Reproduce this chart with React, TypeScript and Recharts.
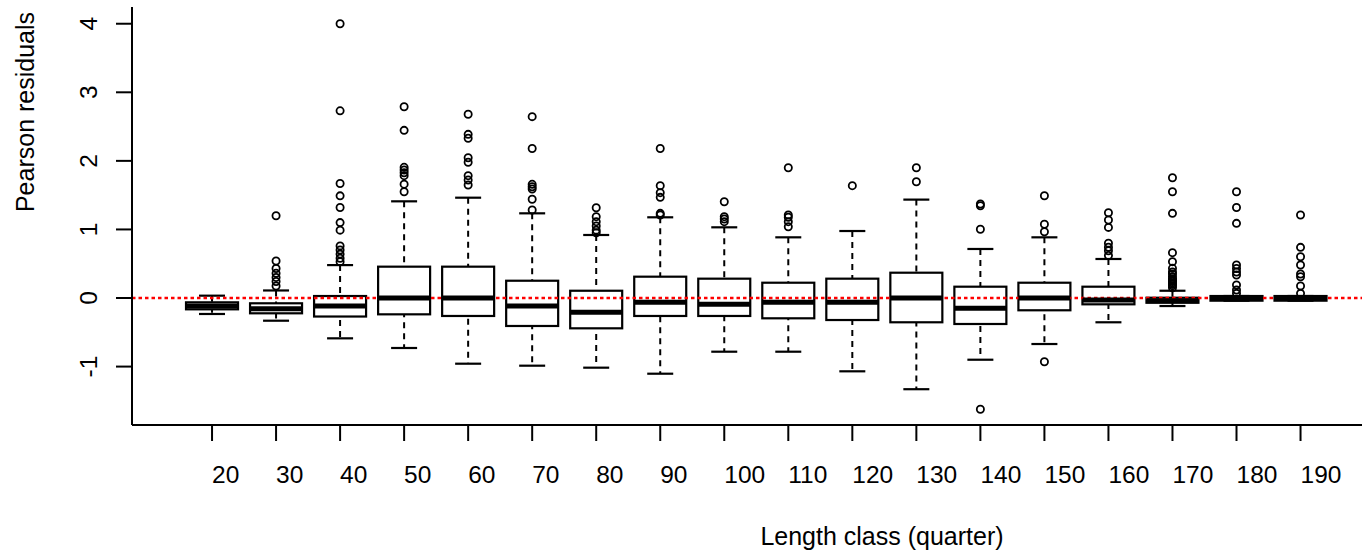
import React from "react";
import {
  ComposedChart,
  Bar,
  Scatter,
  XAxis,
  YAxis,
  ReferenceLine,
} from "recharts";

// length classes (x categories)
const categories = ["20", "30", "40", "50", "60", "70", "80", "90", "100", "110", "120", "130", "140", "150", "160", "170", "180", "190"];

// box statistics
const whiskerLow = [-0.233, -0.331, -0.588, -0.729, -0.958, -0.987, -1.016, -1.104, -0.783, -0.783, -1.069, -1.33, -0.9, -0.671, -0.354, -0.117, -0.039, -0.039];
const q1 = [-0.165, -0.223, -0.27, -0.238, -0.262, -0.408, -0.442, -0.262, -0.262, -0.296, -0.321, -0.354, -0.379, -0.179, -0.092, -0.069, -0.039, -0.039];
const median = [-0.117, -0.156, -0.117, 0.0, 0.0, -0.117, -0.209, -0.063, -0.092, -0.063, -0.063, 0.0, -0.15, 0.0, -0.03, -0.04, 0.0, 0.0];
const q3 = [-0.063, -0.077, 0.029, 0.457, 0.457, 0.252, 0.106, 0.311, 0.282, 0.223, 0.282, 0.369, 0.165, 0.223, 0.165, 0.004, 0.029, 0.029];
const whiskerHigh = [0.034, 0.11, 0.48, 1.41, 1.463, 1.235, 0.919, 1.177, 1.031, 0.885, 0.977, 1.435, 0.715, 0.885, 0.569, 0.106, 0.029, 0.029];

const outliers = [
  [],
  [1.2, 0.54, 0.43, 0.36, 0.3, 0.24, 0.175],
  [4.0, 2.73, 1.67, 1.49, 1.32, 1.1, 0.99, 0.76, 0.7, 0.64, 0.58, 0.53],
  [2.79, 2.445, 1.906, 1.867, 1.827, 1.784, 1.66, 1.55],
  [2.68, 2.387, 2.33, 2.046, 1.98, 1.784, 1.72, 1.648],
  [2.645, 2.18, 1.658, 1.623, 1.59, 1.44, 1.283],
  [1.317, 1.186, 1.113, 1.05, 0.99, 0.952],
  [2.18, 1.638, 1.536, 1.468, 1.235, 1.21],
  [1.404, 1.186, 1.152, 1.113],
  [1.9, 1.21, 1.177, 1.113, 1.04],
  [1.638],
  [1.9, 1.696],
  [1.371, 1.346, 1.002, -1.623],
  [1.492, 1.075, 0.967, -0.929],
  [1.244, 1.137, 1.03, 0.8, 0.74, 0.69, 0.62],
  [1.754, 1.55, 1.235, 0.661, 0.53, 0.433, 0.38, 0.35, 0.31, 0.28, 0.26, 0.24, 0.22, 0.2, 0.18, 0.15],
  [1.55, 1.32, 1.089, 0.481, 0.43, 0.38, 0.335, 0.19, 0.117, 0.068],
  [1.21, 0.739, 0.602, 0.481, 0.35, 0.31, 0.175, 0.068],
];

const yTicks = [-1, 0, 1, 2, 3, 4];

const FONT = "'Liberation Sans', Arial, Helvetica, sans-serif";
const BOX_W = 52;
const CAP_W = 26;

const rows = categories.map((c, i) => ({
  pos: i + 1,
  label: c,
  whisker: [whiskerLow[i], whiskerHigh[i]],
  box: [q1[i], q3[i]],
  median: median[i],
}));

const outlierRows = outliers.flatMap((vals, i) => vals.map((v) => ({ pos: i + 1, value: v })));

const WhiskerShape = (props: any) => {
  const { x, y, width, height } = props;
  const cx = x + width / 2;
  return (
    <g>
      <line x1={cx} x2={cx} y1={y} y2={y + height} stroke="#000" strokeWidth={2} strokeDasharray="6 5" />
      <line x1={cx - CAP_W / 2} x2={cx + CAP_W / 2} y1={y} y2={y} stroke="#000" strokeWidth={2.2} />
      <line x1={cx - CAP_W / 2} x2={cx + CAP_W / 2} y1={y + height} y2={y + height} stroke="#000" strokeWidth={2.2} />
    </g>
  );
};

const BoxShape = (props: any) => {
  const { x, y, width, height } = props;
  return <rect x={x} y={y} width={width} height={height} fill="#fff" stroke="#000" strokeWidth={2.2} />;
};

const MedianShape = (props: any) => {
  const { cx, cy } = props;
  return <line x1={cx - BOX_W / 2} x2={cx + BOX_W / 2} y1={cy} y2={cy} stroke="#000" strokeWidth={5} />;
};

const OutlierShape = (props: any) => {
  const { cx, cy } = props;
  return <circle cx={cx} cy={cy} r={3.6} fill="none" stroke="#000" strokeWidth={1.8} />;
};

const XTick = (props: any) => {
  const { x, y, payload } = props;
  return (
    <text x={x} y={y} textAnchor="start" fontSize={24.5} fontFamily={FONT} fill="#000">
      {categories[payload.value - 1]}
    </text>
  );
};

const YTick = (props: any) => {
  const { x, y, payload } = props;
  return (
    <text transform={`translate(${x},${y}) rotate(-90)`} textAnchor="middle" fontSize={24.5} fontFamily={FONT} fill="#000">
      {payload.value}
    </text>
  );
};

export default function App() {
  return (
    <div style={{ position: "absolute", left: 0, top: 0, width: 1362, height: 554, background: "#fff" }}>
      <ComposedChart width={1362} height={554} data={rows} margin={{ top: 7, right: 0, bottom: 0, left: 0 }} barGap={-BOX_W}>
        <XAxis
          xAxisId="top"
          orientation="top"
          type="number"
          domain={[-0.25, 18.96]}
          allowDataOverflow
          height={0}
          tick={false}
          tickLine={false}
          axisLine={{ stroke: "#000", strokeWidth: 2 }}
        />
        <XAxis
          dataKey="pos"
          type="number"
          domain={[-0.25, 18.96]}
          allowDataOverflow
          ticks={rows.map((r) => r.pos)}
          interval={0}
          height={129}
          tickSize={16}
          tickMargin={42}
          tick={<XTick />}
          tickLine={{ stroke: "#000", strokeWidth: 2 }}
          axisLine={{ stroke: "#000", strokeWidth: 2 }}
          label={{
            content: (p: any) => (
              <text x={p.viewBox.x + 750} y={p.viewBox.y + 120} textAnchor="middle" fontSize={25} fontFamily={FONT} fill="#000">
                Length class (quarter)
              </text>
            ),
          }}
        />
        <YAxis
          type="number"
          domain={[-1.852, 4.244]}
          allowDataOverflow
          ticks={yTicks}
          interval={0}
          width={132}
          tickSize={16}
          tickMargin={19}
          tick={<YTick />}
          tickLine={{ stroke: "#000", strokeWidth: 2 }}
          axisLine={{ stroke: "#000", strokeWidth: 2 }}
          label={{
            content: (p: any) => (
              <text
                transform={`translate(${p.viewBox.x + 34},${p.viewBox.y + 105}) rotate(-90)`}
                textAnchor="middle"
                fontSize={25}
                fontFamily={FONT}
                fill="#000"
              >
                Pearson residuals
              </text>
            ),
          }}
        />
        <Bar dataKey="whisker" barSize={BOX_W} shape={<WhiskerShape />} isAnimationActive={false} />
        <Bar dataKey="box" barSize={BOX_W} shape={<BoxShape />} isAnimationActive={false} />
        <Scatter dataKey="median" shape={<MedianShape />} isAnimationActive={false} />
        <ReferenceLine y={0} stroke="#ff0000" strokeWidth={2.5} strokeDasharray="3.5 3" />
        <Scatter data={outlierRows} dataKey="value" shape={<OutlierShape />} isAnimationActive={false} />
      </ComposedChart>
    </div>
  );
}
